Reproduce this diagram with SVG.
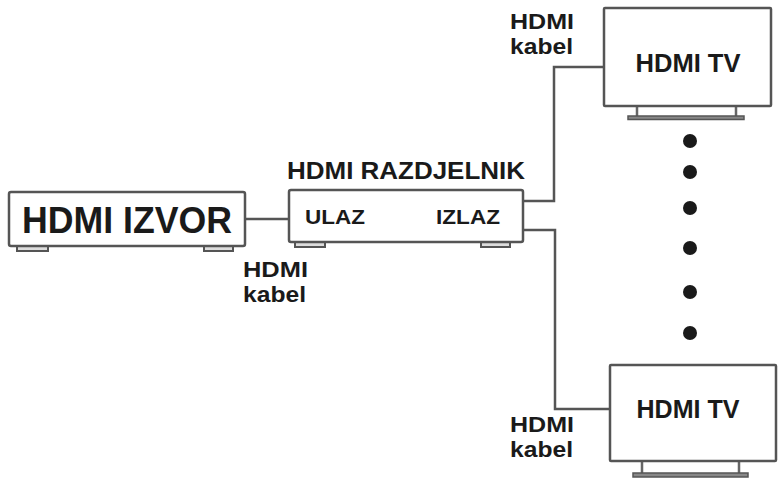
<svg xmlns="http://www.w3.org/2000/svg" width="782" height="482" viewBox="0 0 782 482">
<style>
.box{fill:#fff;stroke:#555;stroke-width:2.5}
.foot{fill:#ddd;stroke:#555;stroke-width:2}
.wire{fill:none;stroke:#555;stroke-width:2.5}
.stand{fill:none;stroke:#666;stroke-width:2.5}
.base{fill:#888;stroke:#555;stroke-width:1.5}
text{font-family:"Liberation Sans",Arial,sans-serif;font-weight:bold;fill:#1a1a1a}
.dot{fill:#1a1a1a}
</style>
<rect width="782" height="482" fill="#fff"/>
<g id="connectors">
<path class="wire" d="M245,219 H289"/>
<path class="wire" d="M523,201 H554 V67 H604"/>
<path class="wire" d="M523,230 H555 V409 H610"/>
</g>
<g id="source">
<rect class="foot" x="17" y="245" width="31" height="6"/>
<rect class="foot" x="204" y="245" width="29" height="6"/>
<rect class="box" x="9" y="192" width="236" height="54" rx="2"/>
<text x="127" y="233" font-size="37" text-anchor="middle" textLength="210" lengthAdjust="spacingAndGlyphs">HDMI IZVOR</text>
</g>
<g id="splitter">
<text x="287" y="179" font-size="24" textLength="238" lengthAdjust="spacingAndGlyphs">HDMI RAZDJELNIK</text>
<rect class="foot" x="295" y="241" width="30" height="6"/>
<rect class="foot" x="481" y="241" width="29" height="6"/>
<rect class="box" x="289" y="190" width="234" height="52" rx="2"/>
<text x="305" y="224" font-size="21" textLength="60" lengthAdjust="spacingAndGlyphs">ULAZ</text>
<text x="436" y="224" font-size="21" textLength="64" lengthAdjust="spacingAndGlyphs">IZLAZ</text>
</g>
<g id="cable-label-left">
<text x="243" y="277" font-size="22" textLength="65" lengthAdjust="spacingAndGlyphs">HDMI</text>
<text x="243" y="302" font-size="22" textLength="63" lengthAdjust="spacingAndGlyphs">kabel</text>
</g>
<g id="tv-top">
<path class="stand" d="M637,106 V117 M736,106 V117"/>
<rect class="base" x="628" y="116" width="116" height="3.5"/>
<rect class="box" x="604" y="8" width="167" height="98" rx="1"/>
<text x="688" y="72" font-size="25" text-anchor="middle" textLength="105" lengthAdjust="spacingAndGlyphs">HDMI TV</text>
</g>
<g id="cable-label-top">
<text x="510" y="29" font-size="22" textLength="64" lengthAdjust="spacingAndGlyphs">HDMI</text>
<text x="510" y="54" font-size="22" textLength="63" lengthAdjust="spacingAndGlyphs">kabel</text>
</g>
<g id="dots">
<circle class="dot" cx="690" cy="141" r="7"/>
<circle class="dot" cx="690" cy="172" r="7"/>
<circle class="dot" cx="690" cy="208" r="7"/>
<circle class="dot" cx="690" cy="248" r="7"/>
<circle class="dot" cx="690" cy="292" r="7"/>
<circle class="dot" cx="690" cy="333" r="7"/>
</g>
<g id="tv-bottom">
<path class="stand" d="M642,461 V473 M739,461 V473"/>
<rect class="base" x="633" y="473" width="115" height="4"/>
<rect class="box" x="610" y="365" width="166" height="96" rx="1"/>
<text x="688" y="418" font-size="25" text-anchor="middle" textLength="103" lengthAdjust="spacingAndGlyphs">HDMI TV</text>
</g>
<g id="cable-label-bottom">
<text x="510" y="432" font-size="22" textLength="64" lengthAdjust="spacingAndGlyphs">HDMI</text>
<text x="510" y="457" font-size="22" textLength="63" lengthAdjust="spacingAndGlyphs">kabel</text>
</g>
</svg>
